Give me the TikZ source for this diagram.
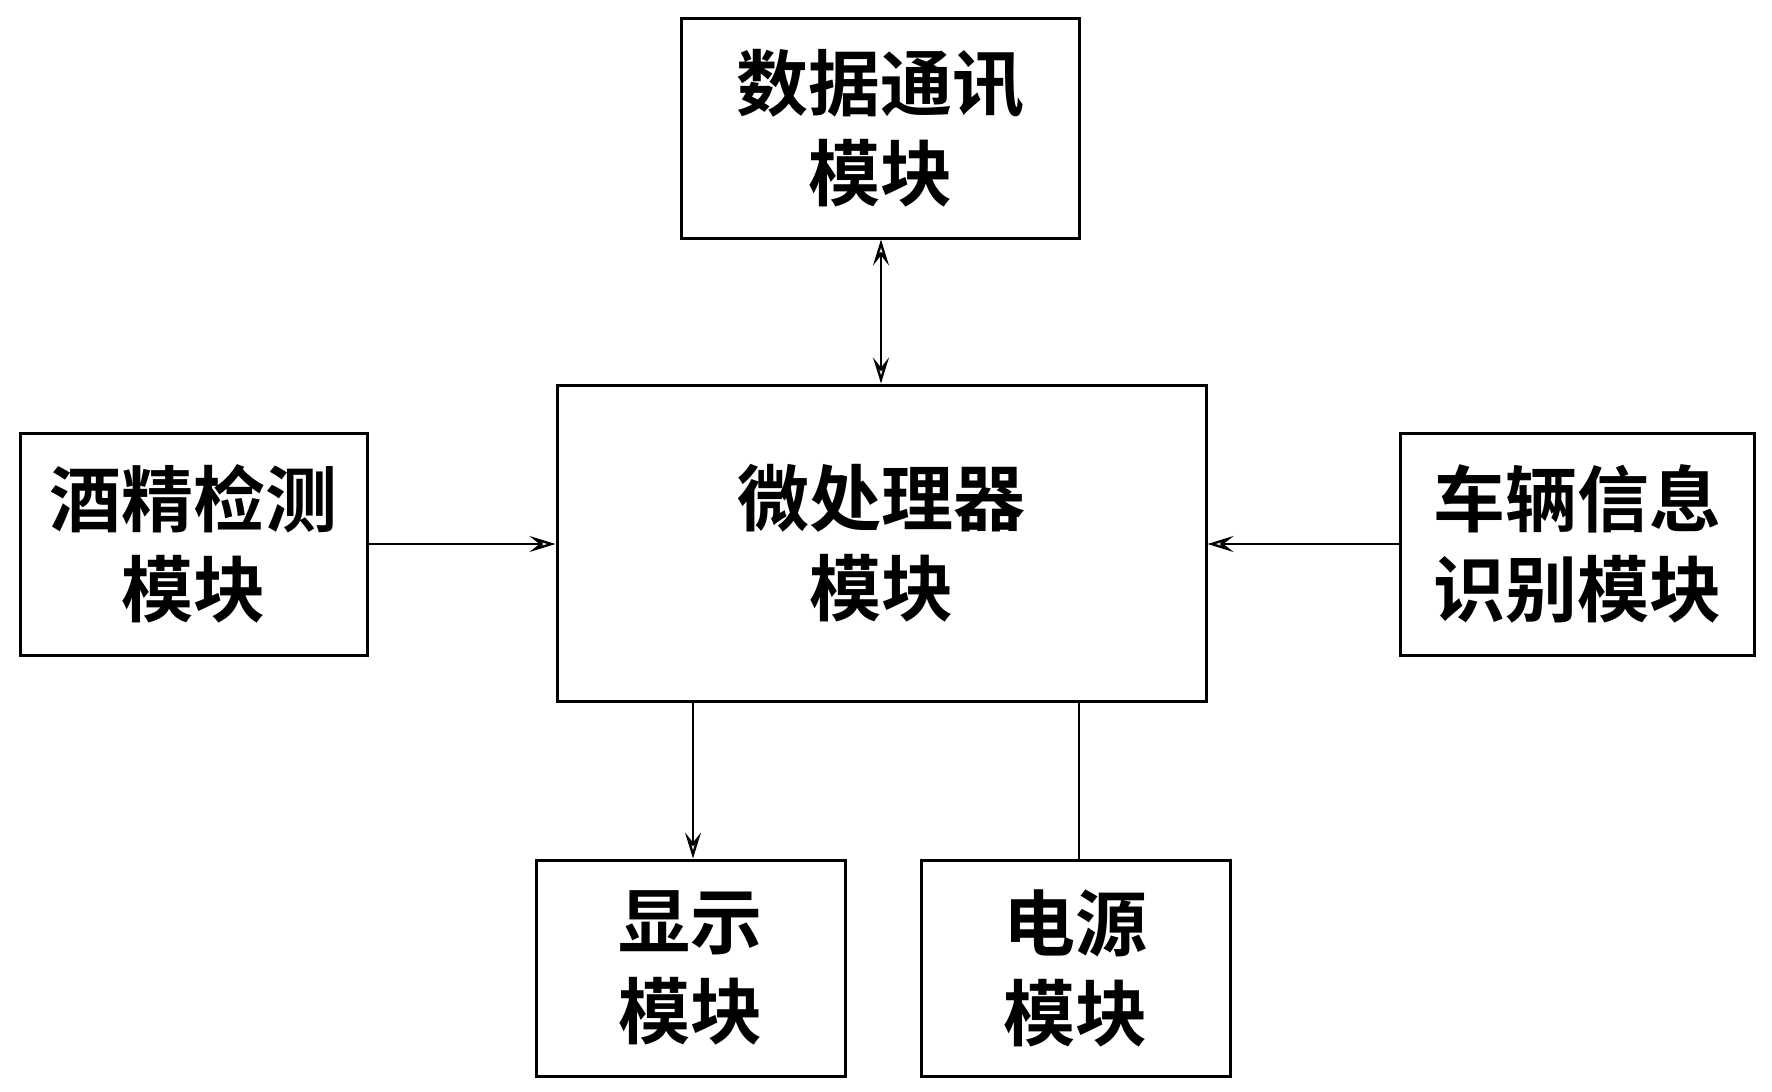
\documentclass[tikz,border=0pt]{standalone}
\usepackage{fontspec}
\newfontfamily\cjk{Noto Sans CJK SC}[BoldFont={Noto Sans CJK SC Bold}]
\usetikzlibrary{arrows.meta}
\begin{document}
\begin{tikzpicture}[x=1pt,y=-1pt,
  box/.style={draw,line width=3pt,inner sep=0pt,align=center,
    font=\cjk\bfseries\fontsize{72}{90}\selectfont},
  conn/.style={line width=2.4pt},
  tip/.tip={Stealth[open,length=26pt,width=16pt,inset=10pt]},
  arr/.style={conn,-tip},
  darr/.style={conn,tip-tip}]
\useasboundingbox (0,0) rectangle (1772,1092);
\node[box,minimum width=398pt,minimum height=220pt] (comm) at (880,128) {数据通讯\\模块};
\node[box,minimum width=649pt,minimum height=316pt] (mcu) at (881.5,543) {微处理器\\模块};
\node[box,minimum width=347pt,minimum height=222pt] (alc) at (193.5,544) {酒精检测\\模块};
\node[box,minimum width=354pt,minimum height=222pt] (veh) at (1577,544) {车辆信息\\识别模块};
\node[box,minimum width=309pt,minimum height=216pt] (disp) at (690.5,968) {显示\\模块};
\node[box,minimum width=309pt,minimum height=216pt] (pwr) at (1075.5,968) {电源\\模块};
\coordinate (cx) at (881,0);
\coordinate (dx) at (693,0);
\coordinate (px) at (1079,0);
\draw[darr] (comm.south -| cx) -- (mcu.north -| cx);
\draw[arr] (alc.east) -- (mcu.west |- alc.east);
\draw[arr] (veh.west) -- (mcu.east |- veh.west);
\draw[arr] (mcu.south -| dx) -- (disp.north -| dx);
\draw[conn] (mcu.south -| px) -- (pwr.north -| px);
\end{tikzpicture}
\end{document}
